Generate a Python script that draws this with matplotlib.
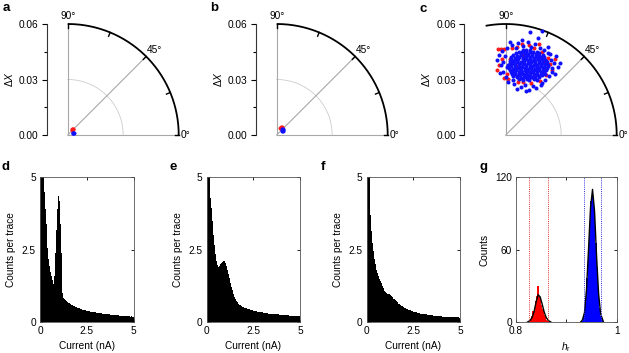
import matplotlib
matplotlib.use('Agg')
import matplotlib.pyplot as plt
import numpy as np

plt.rcParams['font.family'] = ['Liberation Sans', 'DejaVu Sans']
plt.rcParams['mathtext.fontset'] = 'custom'
plt.rcParams['mathtext.rm'] = 'Liberation Sans'
plt.rcParams['mathtext.it'] = 'Liberation Sans:italic'
plt.rcParams['font.size'] = 7.3

# ---- data (ΔX values in units of 1e-3) ----
a_red_x = [2.4, 2.6, 2.8, 2.5]
a_red_y = [3.3, 3.0, 3.4, 2.7]
a_blue_x = [2.9, 3.1, 2.7, 3.3]
a_blue_y = [1.1, 1.3, 0.9, 1.0]

b_red_x = [2.3, 2.0, 2.6, 2.9, 2.1]
b_red_y = [3.9, 3.6, 4.2, 3.8, 4.3]
b_blue_x = [3.0, 2.7, 3.3, 3.5, 2.8, 3.2]
b_blue_y = [2.7, 2.4, 3.0, 2.5, 3.1, 2.2]

c_red_x = [-4.2, -2.8, -1.1, -4.5, -3.6, -0.9, 1.2, 0.9, 3.5, 6.1,
           8.8, 12.6, 15.5, 17.8, 19.8, 22.6, 23.9, 21.6, 24.8, 18.3,
           13.7, 9.4, 6.8, 2.4, 20.5, 9.8, 14.5, -2.1, 26.5, 5.3]
c_red_y = [46.6, 46.3, 46.5, 35.3, 37.9, 30.6, 30.1, 33.2, 46.9, 47.4,
           49.3, 48.7, 46.9, 49.1, 45.1, 41.8, 38.2, 32.7, 35.3, 29.3,
           27.9, 28.6, 28.9, 41.2, 39.6, 43.3, 31.6, 41.1, 41.1, 37.1]

c_blue_x = [7.2, 9.1, 11.3, 12.8, 15.1, 16.7,
            4.2, 6.1, 7.8, 10.2, 12.1, 13.9, 16.2, 18.1, 19.7,
            2.8, 5.1, 7.2, 8.9, 11.1, 13.2, 14.9, 17.1, 19.2, 20.8,
            1.9, 4.2, 6.1, 7.9, 10.2, 12.1, 13.8, 16.1, 18.2, 19.9, 22.1,
            1.2, 3.1, 4.8, 7.1, 9.2, 10.9, 13.1, 15.2, 16.9, 19.1, 21.2, 22.8,
            2.2, 3.9, 6.1, 8.2, 9.9, 12.2, 14.1, 15.8, 18.1, 20.2, 21.8,
            3.1, 4.9, 7.2, 9.1, 10.8, 13.1, 15.2, 16.9, 19.1, 20.9,
            5.8, 8.1, 10.2, 11.9, 14.1, 16.2, 17.9,
            9.1, 11.2, 13.1,
            6.1, 8.2, 9.9, 12.1, 14.2, 15.9, 18.1,
            3.2, 4.9, 7.1, 9.2, 10.9, 13.1, 15.2, 16.8, 19.1, 21.1,
            2.1, 4.1, 5.8, 8.1, 10.2, 11.9, 14.1, 16.2, 17.9, 20.1, 21.8,
            1.1, 2.9, 5.1, 7.2, 8.9, 11.1, 13.2, 14.9, 17.1, 19.2, 20.9, 23.1,
            2.1, 3.9, 6.2, 7.9, 10.1, 12.2, 13.9, 16.1, 18.2, 19.8, 22.1,
            3.1, 5.2, 6.9, 9.1, 11.2, 12.9, 15.1, 17.2, 18.9, 21.1,
            4.1, 5.9, 8.1, 10.2, 11.9, 14.1, 16.2, 17.9, 20.1,
            7.1, 8.9, 11.1, 13.2, 14.9, 17.1,
            -4.8, -3.5, -2.6, -1.9, -1.2, -0.4, 0.3, -2.9, 0.8, 1.5,
            3.2, 4.6, 5.4, 6.7, 3.9, 8.3, 9.6, 10.4, 12.5, 11.8,
            13.9, 14.6, 16.3, 15.8, 18.4, 19.6, 21.3, 20.7, 22.9, 23.6,
            24.4, 25.1, 24.9, 26.3, 27.2, 28.1, 29.6, 26.8, 23.1, 17.5,
            13.2, 19.8, 8.7, 2.1, 6.2, 11.1, 18.9, -1.5, 0.5, 24.1]
c_blue_y = [30.3, 29.6, 30.2, 29.8, 30.4, 29.9,
            32.1, 31.7, 32.4, 31.8, 32.3, 31.6, 32.2, 31.9, 32.3,
            34.2, 33.7, 34.3, 33.9, 34.4, 33.8, 34.1, 34.5, 33.8, 34.2,
            36.1, 35.7, 36.3, 35.8, 36.2, 35.9, 36.4, 35.7, 36.2, 35.9, 36.3,
            38.1, 37.7, 38.3, 37.9, 38.2, 37.6, 38.3, 37.8, 38.1, 37.7, 38.2, 37.9,
            40.2, 39.8, 40.3, 39.7, 40.1, 40.4, 39.8, 40.2, 39.9, 40.3, 39.8,
            42.2, 41.8, 42.3, 41.7, 42.1, 42.4, 41.8, 42.2, 41.9, 42.3,
            44.1, 43.7, 44.3, 43.8, 44.2, 43.9, 44.3,
            45.9, 46.2, 45.8,
            31.2, 30.8, 31.1, 30.9, 31.3, 30.8, 31.1,
            33.1, 32.8, 33.2, 32.9, 33.1, 32.8, 33.2, 32.9, 33.1, 32.8,
            35.2, 34.8, 35.1, 34.9, 35.2, 34.8, 35.1, 34.9, 35.2, 34.8, 35.1,
            36.9, 37.2, 36.8, 37.1, 36.9, 37.2, 36.8, 37.1, 36.9, 37.2, 36.8, 37.1,
            39.1, 38.8, 39.2, 38.9, 39.1, 38.8, 39.2, 38.9, 39.1, 38.8, 39.2,
            41.1, 40.8, 41.2, 40.9, 41.1, 40.8, 41.2, 40.9, 41.1, 40.8,
            43.1, 42.8, 43.2, 42.9, 43.1, 42.8, 43.2, 42.9, 43.1,
            45.1, 44.8, 45.2, 44.9, 45.1, 44.8,
            40.5, 43.2, 37.8, 45.6, 34.1, 42.7, 31.5, 33.5, 46.9, 28.9,
            48.4, 27.6, 46.8, 49.5, 29.8, 26.2, 48.1, 27.1, 24.5, 50.3,
            47.6, 26.5, 25.3, 49.2, 47.1, 28.2, 29.6, 45.9, 44.2, 31.8,
            40.8, 36.4, 34.1, 38.7, 42.5, 36.9, 39.1, 33.2, 47.8, 52.6,
            55.8, 56.2, 51.6, 50.2, 24.8, 23.9, 26.8, 39.5, 36.8, 43.6]

# histograms, current bins of 0.05 nA from 0 to 5 nA
d_counts = [7.0, 6.5, 5.8, 5.1, 4.5, 3.9, 3.4, 2.95, 2.55, 2.2,
            1.95, 1.75, 1.58, 1.45, 1.33, 1.6, 2.4, 3.2, 3.9, 4.35,
            4.2, 3.4, 2.4, 1.5, 1.0, 0.85, 0.8, 0.76, 0.72, 0.69,
            0.67, 0.65, 0.63, 0.61, 0.59, 0.57, 0.56, 0.54, 0.53, 0.52,
            0.50, 0.49, 0.48, 0.46, 0.45, 0.44, 0.43, 0.42, 0.41, 0.40,
            0.40, 0.39, 0.38, 0.38, 0.37, 0.36, 0.36, 0.35, 0.34, 0.34,
            0.33, 0.33, 0.32, 0.32, 0.31, 0.31, 0.30, 0.30, 0.29, 0.29,
            0.28, 0.28, 0.28, 0.27, 0.27, 0.26, 0.26, 0.26, 0.25, 0.25,
            0.25, 0.24, 0.24, 0.24, 0.23, 0.23, 0.23, 0.23, 0.22, 0.22,
            0.22, 0.22, 0.21, 0.21, 0.21, 0.21, 0.20, 0.21, 0.20, 0.20]
e_counts = [7.0, 6.0, 5.2, 4.7, 4.3, 3.95, 3.5, 3.0, 2.65, 2.35,
            2.12, 1.98, 1.92, 1.95, 2.0, 2.05, 2.08, 2.12, 2.14, 2.12,
            2.05, 1.95, 1.82, 1.68, 1.52, 1.36, 1.22, 1.1, 0.98, 0.88,
            0.80, 0.74, 0.69, 0.65, 0.62, 0.60, 0.58, 0.56, 0.54, 0.52,
            0.51, 0.50, 0.48, 0.47, 0.46, 0.45, 0.44, 0.43, 0.42, 0.41,
            0.40, 0.39, 0.38, 0.38, 0.37, 0.36, 0.35, 0.35, 0.34, 0.34,
            0.33, 0.33, 0.32, 0.32, 0.31, 0.31, 0.30, 0.30, 0.30, 0.29,
            0.29, 0.28, 0.28, 0.28, 0.27, 0.27, 0.27, 0.26, 0.26, 0.26,
            0.26, 0.25, 0.25, 0.25, 0.24, 0.24, 0.24, 0.24, 0.23, 0.23,
            0.23, 0.23, 0.23, 0.22, 0.22, 0.22, 0.22, 0.22, 0.21, 0.21]
f_counts = [8.0, 6.5, 5.3, 4.4, 3.7, 3.15, 2.75, 2.45, 2.2, 2.0,
            1.82, 1.7, 1.6, 1.5, 1.42, 1.34, 1.26, 1.18, 1.12, 1.07,
            1.03, 1.0, 0.99, 0.98, 0.96, 0.93, 0.90, 0.86, 0.82, 0.79,
            0.76, 0.73, 0.70, 0.67, 0.64, 0.62, 0.60, 0.57, 0.55, 0.53,
            0.51, 0.49, 0.47, 0.46, 0.44, 0.43, 0.42, 0.40, 0.39, 0.38,
            0.37, 0.36, 0.35, 0.34, 0.33, 0.32, 0.31, 0.30, 0.30, 0.29,
            0.28, 0.28, 0.27, 0.27, 0.26, 0.26, 0.25, 0.25, 0.24, 0.24,
            0.24, 0.23, 0.23, 0.23, 0.22, 0.22, 0.22, 0.21, 0.21, 0.21,
            0.20, 0.20, 0.20, 0.20, 0.19, 0.19, 0.19, 0.19, 0.18, 0.18,
            0.18, 0.18, 0.18, 0.17, 0.17, 0.17, 0.17, 0.17, 0.17, 0.16]
current_edges = np.linspace(0, 5, len(d_counts) + 1)

# panel g, h_r histograms (bin width 0.0025)
g_red_edges_start = 0.825
g_red_counts = [1, 3, 5, 9, 12, 18, 22, 30, 21, 20, 14, 11, 6, 4, 2, 1, 1, 0]
g_blue_edges_start = 0.930
g_blue_counts = [1, 4, 9, 19, 37, 56, 80, 100, 110, 104, 90, 66, 45, 24, 12, 5, 2]
g_bin = 0.0025
g_red_fit_x = [0.822, 0.828, 0.832, 0.836, 0.840, 0.844, 0.848, 0.852, 0.856, 0.860, 0.864, 0.870]
g_red_fit_y = [0, 1.5, 4, 9, 17, 22.8, 21, 15, 8.5, 4, 1.5, 0]
g_blue_fit_x = [0.928, 0.932, 0.936, 0.940, 0.944, 0.948, 0.952, 0.956, 0.960, 0.964, 0.968, 0.974]
g_blue_fit_y = [0, 2, 8, 27, 60, 95, 110, 92, 55, 24, 7, 0]
g_red_limits = [0.8264, 0.8643]
g_blue_limits = [0.9357, 0.969]

RED = '#ff1a1a'
BLUE = '#1010ff'

W, H = 629, 353
fig = plt.figure(figsize=(W / 100, H / 100), dpi=100)


def px_axes(left, top, width, height):
    return fig.add_axes([left / W, 1 - (top + height) / H, width / W, height / H])


R = 0.06
PX = 111 / R


def quarter(left, gap, arc_end, rx, ry, bx, by):
    xmin = -gap / PX
    xmax = 0.068
    ax = px_axes(left, 24, (xmax - xmin) * PX, 111)
    ax.set_xlim(xmin, xmax)
    ax.set_ylim(0, R)
    for s in ['top', 'right', 'bottom']:
        ax.spines[s].set_visible(False)
    ax.spines['left'].set_color('#333333')
    ax.spines['left'].set_linewidth(0.8)
    ax.set_xticks([])
    ax.set_yticks([0, 0.03, 0.06])
    ax.set_yticklabels(['0.00', '0.03', '0.06'])
    ax.set_yticks([0.015, 0.045], minor=True)
    ax.tick_params(axis='y', which='major', direction='out', length=3.6, width=0.8, pad=2)
    ax.tick_params(axis='y', which='minor', direction='out', length=2.2, width=0.8)
    ax.set_ylabel(r'$\Delta X$', labelpad=3)

    th = np.radians(np.linspace(0, 90, 200))
    ax.plot(0.03 * np.cos(th), 0.03 * np.sin(th), color='#cccccc', lw=0.6, zorder=1)
    for deg in [0, 45, 90]:
        t = np.radians(deg)
        ax.plot([0, R * np.cos(t)], [0, R * np.sin(t)], color='#a8a8a8', lw=0.8,
                zorder=1, clip_on=False)
    th = np.radians(np.linspace(0, arc_end, 300))
    ax.plot(R * np.cos(th), R * np.sin(th), color='black', lw=1.3, clip_on=False,
            solid_capstyle='butt', zorder=3)
    for deg in [0, 22.5, 45, 67.5, 90]:
        t = np.radians(deg)
        ax.plot([R * np.cos(t), (R - 0.0022) * np.cos(t)],
                [R * np.sin(t), (R - 0.0022) * np.sin(t)],
                color='black', lw=1.0, clip_on=False, zorder=3)
    ax.text(0, R + 0.0018, '90°', ha='center', va='bottom')
    ax.text(R + 0.001, 0, '0°', ha='left', va='center')
    ax.text(R * np.cos(np.pi / 4) + 0.0005, R * np.sin(np.pi / 4) + 0.0008, '45°',
            ha='left', va='bottom')

    ax.plot(np.array(rx) * 1e-3, np.array(ry) * 1e-3, 'o', ms=2.9, color=RED,
            mec='none', clip_on=False, zorder=4)
    ax.plot(np.array(bx) * 1e-3, np.array(by) * 1e-3, 'o', ms=2.9, color=BLUE,
            mec='none', clip_on=False, zorder=5)
    return ax


quarter(46.5, 21.2, 90, a_red_x, a_red_y, a_blue_x, a_blue_y)
quarter(255.5, 21.2, 90, b_red_x, b_red_y, b_blue_x, b_blue_y)
quarter(464.0, 41.7, 100.4, c_red_x, c_red_y, c_blue_x, c_blue_y)


def box_style(ax):
    for s in ax.spines.values():
        s.set_color('#555555')
        s.set_linewidth(0.6)
    ax.tick_params(direction='in', length=2.2, width=0.6, top=True, right=True, pad=3)


for left, counts in [(40, d_counts), (206.7, e_counts), (366.7, f_counts)]:
    ax = px_axes(left, 177.3, 93.5, 145)
    ax.stairs(counts, current_edges, fill=True, color='black', lw=0)
    ax.set_xlim(0, 5)
    ax.set_ylim(0, 5)
    ax.set_xticks([0, 2.5, 5])
    ax.set_xticklabels(['0', '2.5', '5'])
    ax.set_yticks([0, 2.5, 5])
    ax.set_yticklabels(['0', '2.5', '5'])
    ax.set_xlabel('Current (nA)', labelpad=3)
    ax.set_ylabel('Counts per trace', labelpad=4)
    box_style(ax)

ax = px_axes(516, 177.3, 100.7, 145)
red_edges = g_red_edges_start + g_bin * np.arange(len(g_red_counts) + 1)
blue_edges = g_blue_edges_start + g_bin * np.arange(len(g_blue_counts) + 1)
ax.stairs(g_red_counts, red_edges, fill=True, color='#ff0000', lw=0)
ax.stairs(g_blue_counts, blue_edges, fill=True, color='#0000ff', lw=0)
ax.plot(g_red_fit_x, g_red_fit_y, color='black', lw=1.0)
ax.plot(g_blue_fit_x, g_blue_fit_y, color='black', lw=1.0)
for v in g_red_limits:
    ax.axvline(v, color='#e03030', lw=0.7, ls=(0, (1, 1.2)))
for v in g_blue_limits:
    ax.axvline(v, color='#3030e0', lw=0.7, ls=(0, (1, 1.2)))
ax.set_xlim(0.8, 1.0)
ax.set_ylim(0, 120)
ax.set_xticks([0.8, 0.9, 1.0])
ax.set_xticklabels(['0.8', '', '1'])
ax.set_yticks([0, 60, 120])
ax.set_xlabel(r'$h_\mathrm{r}$', labelpad=3)
ax.set_ylabel('Counts', labelpad=4)
box_style(ax)

for x, y, s in [(6, 8, 'a'), (214, 8, 'b'), (423, 9, 'c'),
                (6, 167, 'd'), (173, 167, 'e'), (323, 167, 'f'), (484, 167, 'g')]:
    fig.text(x / W, 1 - y / H, s, fontsize=9.5, fontweight='bold', ha='center', va='center')

fig.savefig('out.png', dpi=100)
